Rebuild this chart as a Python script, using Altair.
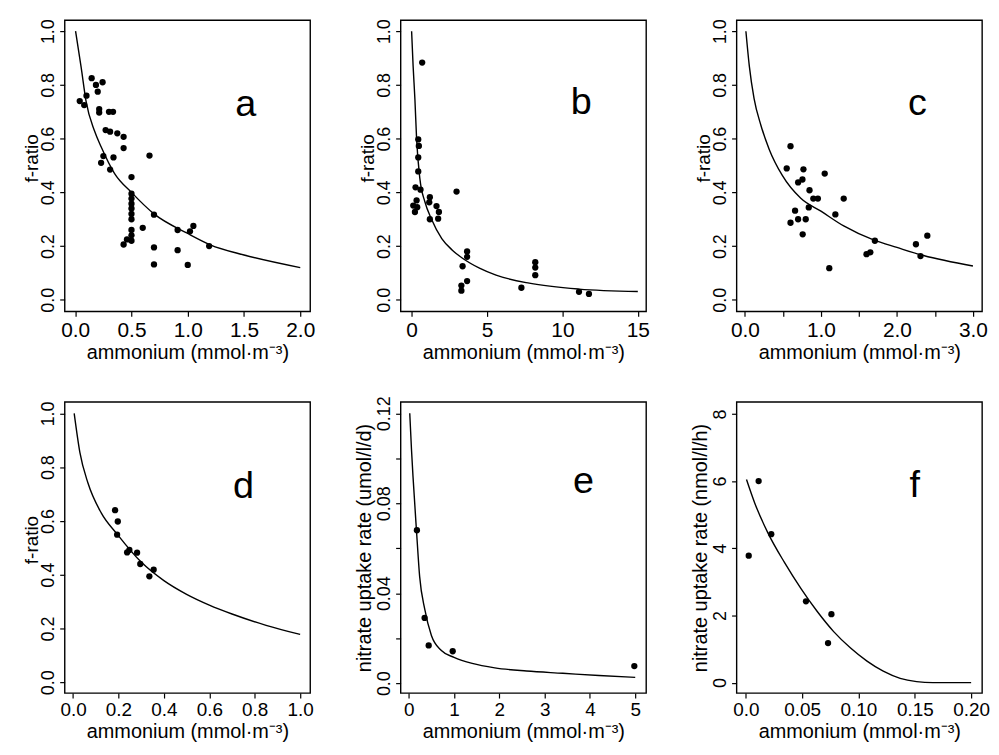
import altair as alt
import pandas as pd

FONT = "Liberation Sans"
XTITLE = "ammonium (mmol·m⁻³)"

# ---------------- panel a ----------------
A_X = [0.04, 0.10, 0.08, 0.146, 0.184, 0.20, 0.243, 0.213, 0.213, 0.30, 0.336, 0.27, 0.31, 0.374, 0.43,
       0.43, 0.25, 0.34, 0.23, 0.31, 0.66, 0.50, 0.50, 0.50, 0.50, 0.50, 0.50, 0.50, 0.50, 0.50,
       0.50, 0.46, 0.43, 0.60, 0.70, 0.70, 0.70, 0.91, 0.91, 1.00, 1.02, 1.05, 1.19]
A_Y = [0.74, 0.76, 0.725, 0.825, 0.80, 0.775, 0.81, 0.71, 0.697, 0.70, 0.70, 0.632, 0.626, 0.62, 0.607,
       0.565, 0.535, 0.53, 0.51, 0.485, 0.537, 0.457, 0.395, 0.377, 0.358, 0.34, 0.32, 0.30, 0.26, 0.24,
       0.22, 0.225, 0.206, 0.268, 0.317, 0.195, 0.132, 0.26, 0.185, 0.13, 0.255, 0.275, 0.20]
A_CX = [0.003, 0.053, 0.096, 0.17, 0.23, 0.35, 0.5, 0.7, 1.0, 1.2, 1.5, 2.0]
A_CY = [1.0, 0.864, 0.74, 0.63, 0.57, 0.47, 0.40, 0.32, 0.247, 0.205, 0.167, 0.12]

# ---------------- panel b ----------------
B_X = [0.70, 0.44, 0.48, 0.44, 0.44, 0.26, 0.59, 2.98, 0.11, 0.33, 0.22, 0.37, 1.21, 1.17, 1.65,
       1.81, 1.76, 1.21, 3.68, 3.68, 3.38, 3.3, 3.3, 3.68, 7.28, 8.2, 8.2, 8.2, 11.1, 11.76]
B_Y = [0.883, 0.597, 0.573, 0.53, 0.478, 0.419, 0.41, 0.403, 0.351, 0.37, 0.327, 0.345, 0.382, 0.363, 0.349,
       0.327, 0.302, 0.30, 0.18, 0.16, 0.125, 0.053, 0.034, 0.07, 0.045, 0.14, 0.12, 0.092, 0.03, 0.022]
B_CX = [0.0, 0.1, 0.22, 0.33, 0.55, 0.88, 1.32, 2.0, 2.7, 3.4, 4.5, 5.6, 7.8, 11.1, 15.0]
B_CY = [1.0, 0.87, 0.745, 0.60, 0.45, 0.365, 0.30, 0.228, 0.185, 0.154, 0.118, 0.092, 0.062, 0.04, 0.031]

# ---------------- panel c ----------------
C_X = [0.55, 0.60, 0.60, 0.66, 0.70, 0.70, 0.757, 0.77, 0.76, 0.80, 0.85, 0.84, 0.90, 0.96, 1.05,
       1.11, 1.19, 1.30, 1.60, 1.65, 1.71, 2.25, 2.31, 2.40]
C_Y = [0.489, 0.572, 0.287, 0.332, 0.30, 0.437, 0.448, 0.486, 0.244, 0.30, 0.408, 0.344, 0.377, 0.377, 0.47,
       0.118, 0.318, 0.377, 0.17, 0.177, 0.22, 0.207, 0.163, 0.239]
C_CX = [0.013, 0.058, 0.12, 0.21, 0.32, 0.49, 0.735, 1.0, 1.3, 1.7, 2.0, 2.35, 3.0]
C_CY = [1.0, 0.87, 0.75, 0.65, 0.56, 0.464, 0.378, 0.33, 0.275, 0.222, 0.195, 0.165, 0.126]

# ---------------- panel d ----------------
D_X = [0.185, 0.197, 0.194, 0.238, 0.248, 0.282, 0.296, 0.336, 0.355]
D_Y = [0.64, 0.598, 0.549, 0.483, 0.492, 0.482, 0.44, 0.394, 0.419]
D_CX = [0.005, 0.03, 0.066, 0.124, 0.195, 0.3, 0.4, 0.5, 0.6, 0.7, 0.85, 1.0]
D_CY = [1.0, 0.855, 0.74, 0.63, 0.55, 0.447, 0.378, 0.327, 0.287, 0.254, 0.212, 0.178]

# ---------------- panel e ----------------
E_X = [0.18, 0.35, 0.44, 0.97, 4.98]
E_Y = [0.068, 0.029, 0.0168, 0.0142, 0.0076]
E_CX = [0.022, 0.06, 0.095, 0.17, 0.24, 0.354, 0.5, 0.72, 1.0, 1.4, 1.9, 2.6, 3.4, 4.2, 5.0]
E_CY = [0.12, 0.104, 0.0915, 0.068, 0.0475, 0.0328, 0.0212, 0.0145, 0.0115, 0.0088, 0.0068, 0.0054, 0.0044,
        0.0034, 0.0026]

# ---------------- panel f ----------------
F_X = [0.0026, 0.0114, 0.0226, 0.0534, 0.073, 0.076]
F_Y = [3.78, 6.0, 4.42, 2.42, 1.18, 2.04]
F_CX = [0.0006, 0.0079, 0.0196, 0.0343, 0.049, 0.0636, 0.078, 0.093, 0.1076, 0.122, 0.137, 0.1516, 0.166, 0.2]
F_CY = [6.05, 5.35, 4.46, 3.58, 2.80, 2.11, 1.52, 1.03, 0.64, 0.34, 0.127, 0.03, 0.0, 0.0]

W, H = 247, 293


def panel(px, py, cx, cy, xdom, ydom, xticks, yticks, xexpr, yexpr, ytitle,
          letter, lx, ly, xfs=20, yfs=18, ytfs=19, ytp=-2, ty=H / 2 - 8):
    pts = pd.DataFrame({"x": px, "y": py})
    crv = pd.DataFrame({"x": cx, "y": cy})
    lab = pd.DataFrame({"x": [lx], "y": [ly], "t": [letter]})
    xs = alt.Scale(domain=xdom, nice=False, zero=False)
    ys = alt.Scale(domain=ydom, nice=False, zero=False)
    xax = alt.Axis(values=xticks, labelExpr=xexpr, title=XTITLE, labelFontSize=xfs,
                   titleFontSize=20, labelOverlap=False, labelFlush=False,
                   tickSize=5, labelPadding=3, titlePadding=2, grid=False, domain=False)
    yax = alt.Axis(values=yticks, labelExpr=yexpr, title=ytitle, labelFontSize=yfs,
                   titleFontSize=ytfs, labelAngle=270, labelAlign="center",
                   labelBaseline="bottom", labelOverlap=False, labelFlush=False,
                   tickSize=5, labelPadding=2, titlePadding=ytp, titleY=ty,
                   grid=False, domain=False)
    line = alt.Chart(crv).mark_line(color="black", strokeWidth=1.4, interpolate="monotone").encode(
        x=alt.X("x:Q", scale=xs, axis=xax), y=alt.Y("y:Q", scale=ys, axis=yax))
    dots = alt.Chart(pts).mark_circle(color="black", size=40, opacity=1).encode(
        x="x:Q", y="y:Q")
    txt = alt.Chart(lab).mark_text(font=FONT, fontSize=38, baseline="alphabetic",
                                   align="center", color="black").encode(
        x="x:Q", y="y:Q", text="t:N")
    return alt.layer(line, dots, txt).properties(width=W, height=H)


F1 = "format(datum.value, '.1f')"

pa = panel(A_X, A_Y, A_CX, A_CY, [-0.094, 2.088], [-0.043, 1.041],
           [0, 0.5, 1.0, 1.5, 2.0], [0, 0.2, 0.4, 0.6, 0.8, 1.0], F1, F1, "f-ratio", "a", 1.515, 0.685,
           xfs=21)
pb = panel(B_X, B_Y, B_CX, B_CY, [-0.73, 15.55], [-0.043, 1.041],
           [0, 5, 10, 15], [0, 0.2, 0.4, 0.6, 0.8, 1.0], "format(datum.value, 'd')", F1,
           "f-ratio", "b", 11.25, 0.69, xfs=21)
pc = panel(C_X, C_Y, C_CX, C_CY, [-0.11, 3.12], [-0.043, 1.041],
           [0, 0.5, 1.0, 1.5, 2.0, 2.5, 3.0], [0, 0.2, 0.4, 0.6, 0.8, 1.0],
           "datum.value % 1 == 0 ? format(datum.value, '.1f') : ''", F1, "f-ratio", "c", 2.27, 0.687,
           xfs=21)
pd_ = panel(D_X, D_Y, D_CX, D_CY, [-0.037, 1.044], [-0.04, 1.043],
            [0, 0.2, 0.4, 0.6, 0.8, 1.0], [0, 0.2, 0.4, 0.6, 0.8, 1.0], F1, F1,
            "f-ratio", "d", 0.75, 0.686, xfs=19)
pe = panel(E_X, E_Y, E_CX, E_CY, [-0.18, 5.24], [-0.0044, 0.1251],
           [0, 1, 2, 3, 4, 5], [0, 0.02, 0.04, 0.06, 0.08, 0.10, 0.12],
           "format(datum.value, 'd')",
           "datum.value == 0 ? '0.0' : (round(datum.value * 100) % 4 == 0 ? format(datum.value, '.2f') : '')",
           "nitrate uptake rate (umol/l/d)", "e", 3.86, 0.0844, xfs=19, ytfs=20, ytp=1, ty=H / 2)
pf = panel(F_X, F_Y, F_CX, F_CY, [-0.0082, 0.2097], [-0.31, 8.36],
           [0, 0.05, 0.10, 0.15, 0.20], [0, 2, 4, 6, 8],
           "datum.value == 0 ? '0.0' : format(datum.value, '.2f')", "format(datum.value, 'd')",
           "nitrate uptake rate (nmol/l/h)", "f", 0.150, 5.52, xfs=19, ytfs=20, ytp=1, ty=H / 2)

chart = alt.concat(pa, pb, pc, pd_, pe, pf, columns=3, spacing=91, bounds="flush").properties(
    padding={"left": 14, "top": 7, "right": 0, "bottom": 0}, background="white"
).configure_view(
    stroke="black", strokeWidth=1.4
).configure_axis(
    domain=False, grid=False, tickColor="black", tickWidth=1.2,
    labelColor="black", titleColor="black", labelFont=FONT, titleFont=FONT,
    titleFontWeight="normal"
)

chart.save("out.html", embed_options={"renderer": "svg", "actions": False})
